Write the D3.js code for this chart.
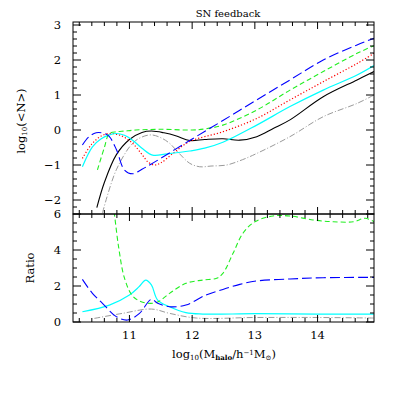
<!DOCTYPE html>
<html>
<head>
<meta charset="utf-8">
<script src="https://cdn.jsdelivr.net/npm/d3@7"></script>
<style>
  body { margin: 0; background: #fff; }
  text { font-family: "DejaVu Serif", "Liberation Serif", serif; fill: #000; }
</style>
</head>
<body>
<script>
const width = 395;
const height = 395;

// top panel: log10(<N>) vs log10(M_halo)
const black_m = [10.48, 10.6, 10.79, 11.0, 11.2, 11.35, 11.55, 11.75, 11.96, 12.2, 12.49, 12.76, 13.03, 13.3, 13.56, 14.09, 14.63, 14.9];
const black_n = [-2.22, -1.5, -0.71, -0.27, -0.07, -0.03, -0.08, -0.17, -0.3, -0.27, -0.25, -0.29, -0.19, 0.05, 0.29, 0.95, 1.43, 1.67];

const gray_m = [10.57, 10.79, 11.05, 11.2, 11.35, 11.5, 11.64, 11.8, 11.96, 12.12, 12.3, 12.55, 12.8, 13.03, 13.56, 14.09, 14.63, 14.9];
const gray_n = [-2.37, -1.14, -0.38, -0.2, -0.14, -0.22, -0.38, -0.68, -0.95, -1.05, -1.03, -1.0, -0.85, -0.67, -0.19, 0.38, 0.76, 1.0];

const red_m = [10.25, 10.4, 10.55, 10.68, 10.85, 11.05, 11.2, 11.3, 11.4, 11.5, 11.7, 11.96, 12.49, 13.03, 13.56, 14.09, 14.63, 14.9];
const red_n = [-0.81, -0.4, -0.17, -0.1, -0.15, -0.38, -0.7, -0.92, -1.0, -0.94, -0.66, -0.33, -0.05, 0.33, 0.86, 1.38, 1.9, 2.19];

const blue_m = [10.25, 10.35, 10.47, 10.6, 10.68, 10.79, 10.92, 11.05, 11.2, 11.35, 11.96, 12.49, 13.03, 13.56, 14.09, 14.63, 14.9];
const blue_n = [-0.43, -0.2, -0.08, -0.1, -0.19, -0.55, -1.14, -1.25, -1.12, -0.97, -0.3, 0.27, 0.86, 1.43, 2.0, 2.43, 2.62];

const green_m = [10.49, 10.6, 10.68, 10.8, 10.92, 11.1, 11.5, 12.0, 12.2, 12.49, 13.03, 13.56, 14.09, 14.63, 14.9];
const green_n = [-1.14, -0.5, -0.1, -0.05, -0.03, 0.0, 0.02, 0.0, 0.03, 0.14, 0.57, 1.14, 1.67, 2.19, 2.41];

const cyan_m = [10.25, 10.41, 10.55, 10.68, 10.79, 10.92, 11.05, 11.2, 11.37, 11.6, 11.96, 12.2, 12.49, 13.03, 13.56, 14.09, 14.63, 14.9];
const cyan_n = [-1.05, -0.48, -0.25, -0.14, -0.1, -0.15, -0.29, -0.52, -0.72, -0.68, -0.6, -0.52, -0.35, 0.14, 0.67, 1.14, 1.57, 1.84];

// bottom panel: ratios
const green_rm = [10.72, 10.76, 10.83, 10.92, 11.05, 11.21, 11.43, 11.64, 11.9, 12.17, 12.39, 12.49, 12.65, 12.81, 13.0, 13.29, 13.56, 13.93, 14.25, 14.57, 14.76, 14.9];
const green_r = [7.0, 6.0, 4.1, 2.45, 1.45, 1.1, 1.08, 1.59, 2.15, 2.33, 2.43, 2.7, 3.8, 4.93, 5.57, 5.89, 5.89, 5.67, 5.57, 5.57, 5.76, 5.57];

const blue_rm = [10.25, 10.41, 10.57, 10.79, 10.97, 11.16, 11.35, 11.45, 11.64, 11.9, 12.22, 12.49, 12.76, 13.03, 13.56, 14.09, 14.9];
const blue_r = [2.37, 1.59, 1.04, 0.3, 0.11, 0.48, 1.26, 1.04, 0.85, 0.94, 1.5, 1.81, 2.09, 2.28, 2.39, 2.46, 2.48];

const cyan_rm = [10.25, 10.68, 11.0, 11.15, 11.26, 11.35, 11.45, 11.64, 11.9, 12.17, 13.0, 14.0, 14.9];
const cyan_r = [0.57, 0.94, 1.5, 1.95, 2.33, 2.06, 1.22, 0.85, 0.52, 0.44, 0.46, 0.44, 0.44];

const gray_rm = [10.44, 10.89, 11.35, 11.64, 12.07, 13.0, 14.0, 14.9];
const gray_r = [0.2, 0.48, 0.72, 0.48, 0.22, 0.25, 0.25, 0.22];

const x_ticks = [11, 12, 13, 14];
const top_ticks = [-2, -1, 0, 1, 2, 3];
const bot_ticks = [0, 2, 4, 6];

const top_series = [
  {m: black_m, v: black_n, color: "#000000", dash: null, w: 1.1},
  {m: gray_m, v: gray_n, color: "#9a9a9a", dash: "6,2,1,2", w: 1},
  {m: red_m, v: red_n, color: "#ff0000", dash: "1.2,2", w: 1.2},
  {m: cyan_m, v: cyan_n, color: "#00ffff", dash: null, w: 1.2},
  {m: green_m, v: green_n, color: "#22ee22", dash: "5,3", w: 1.1},
  {m: blue_m, v: blue_n, color: "#0000ff", dash: "10,4", w: 1.1}
];

const bot_series = [
  {m: gray_rm, v: gray_r, color: "#9a9a9a", dash: "6,2,1,2", w: 1},
  {m: cyan_rm, v: cyan_r, color: "#00ffff", dash: null, w: 1.2},
  {m: green_rm, v: green_r, color: "#22ee22", dash: "5,3", w: 1.1},
  {m: blue_rm, v: blue_r, color: "#0000ff", dash: "10,4", w: 1.1}
];

const left = 73, right = 374;
const top1 = 22, mid = 214, bot = 322;

const x = d3.scaleLinear().domain([10.1, 14.9]).range([left, right]);
const yTop = d3.scaleLinear().domain([-2.4, 3.086]).range([mid, top1]);
const yBot = d3.scaleLinear().domain([0, 6]).range([bot, mid]);

const svg = d3.select('body')
  .append('svg')
  .attr('width', width)
  .attr('height', height);

const defs = svg.append("defs");
defs.append("clipPath").attr("id", "clipTop")
  .append("rect").attr("x", left).attr("y", top1).attr("width", right - left).attr("height", mid - top1);
defs.append("clipPath").attr("id", "clipBot")
  .append("rect").attr("x", left).attr("y", mid).attr("width", right - left).attr("height", bot - mid);

function drawLines(series, y, clip) {
  const g = svg.append("g").attr("clip-path", "url(#" + clip + ")");
  series.forEach(function(s) {
    const pts = s.m.map(function(m, i) { return [m, s.v[i]]; });
    const line = d3.line()
      .x(d => x(d[0]))
      .y(d => y(d[1]))
      .curve(d3.curveCatmullRom.alpha(0.5));
    g.append("path")
      .attr("d", line(pts))
      .attr("fill", "none")
      .attr("stroke", s.color)
      .attr("stroke-width", s.w)
      .attr("stroke-dasharray", s.dash);
  });
}

drawLines(top_series, yTop, "clipTop");
drawLines(bot_series, yBot, "clipBot");

// frame ticks
function frameTicks(y, y0, y1, yMajor, yMinorStep) {
  const g = svg.append("g").attr("stroke", "#000").attr("stroke-width", 1);
  const ya = y(y0), yb = y(y1);
  // x ticks, bottom (up) and top (down)
  d3.range(10.2, 14.9, 0.2).forEach(function(v) {
    const major = Math.abs(v - Math.round(v)) < 1e-6;
    const len = major ? 7 : 4;
    const px = x(v);
    g.append("line").attr("x1", px).attr("x2", px).attr("y1", ya).attr("y2", ya - len);
    g.append("line").attr("x1", px).attr("x2", px).attr("y1", yb).attr("y2", yb + len);
  });
  // y ticks, left and right
  const n = Math.round((y1 - y0) / yMinorStep);
  for (let i = 0; i <= n; i++) {
    const v = Math.ceil(y0 / yMinorStep) * yMinorStep + i * yMinorStep;
    if (v > y1 + 1e-6) break;
    const major = yMajor.some(t => Math.abs(t - v) < 1e-6);
    const len = major ? 8 : 4;
    const py = y(v);
    g.append("line").attr("x1", left).attr("x2", left + len).attr("y1", py).attr("y2", py);
    g.append("line").attr("x1", right).attr("x2", right - len).attr("y1", py).attr("y2", py);
  }
  g.append("rect")
    .attr("x", left).attr("y", yb)
    .attr("width", right - left).attr("height", ya - yb)
    .attr("fill", "none");
}

frameTicks(yTop, -2.4, 3.086, top_ticks, 0.2);
frameTicks(yBot, 0, 6, bot_ticks, 0.5);

// tick labels
const fmt = d => d < 0 ? "\u2212" + Math.abs(d) : String(d);

svg.append("g").selectAll("text")
  .data(top_ticks)
  .enter().append("text")
  .attr("x", left - 12)
  .attr("y", d => yTop(d) + 4)
  .attr("text-anchor", "end")
  .style("font-size", "11.5px")
  .text(fmt);

svg.append("g").selectAll("text")
  .data(bot_ticks)
  .enter().append("text")
  .attr("x", left - 12)
  .attr("y", d => yBot(d) + 4)
  .attr("text-anchor", "end")
  .style("font-size", "11.5px")
  .text(fmt);

svg.append("g").selectAll("text")
  .data(x_ticks)
  .enter().append("text")
  .attr("x", d => x(d))
  .attr("y", bot + 17)
  .attr("text-anchor", "middle")
  .style("font-size", "11.5px")
  .text(fmt);

// title
svg.append("text")
  .attr("x", 228).attr("y", 17)
  .attr("text-anchor", "middle")
  .style("font-size", "10px")
  .text("SN feedback");

// y labels
const ylab = svg.append("text")
  .attr("transform", "translate(25,121) rotate(-90)")
  .attr("text-anchor", "middle")
  .style("font-size", "11.5px");
ylab.append("tspan").text("log");
ylab.append("tspan").attr("baseline-shift", "-25%").style("font-size", "7px").text("10");
ylab.append("tspan").text("(<N>)");

svg.append("text")
  .attr("transform", "translate(34,268) rotate(-90)")
  .attr("text-anchor", "middle")
  .style("font-size", "11.5px")
  .text("Ratio");

// x label
const xlab = svg.append("text")
  .attr("x", 224).attr("y", 358)
  .attr("text-anchor", "middle")
  .style("font-size", "11.5px");
xlab.append("tspan").text("log");
xlab.append("tspan").attr("baseline-shift", "-25%").style("font-size", "7px").text("10");
xlab.append("tspan").text("(M");
xlab.append("tspan").attr("baseline-shift", "-25%").style("font-size", "7px").style("font-weight", "bold").text("halo");
xlab.append("tspan").text("/h");
xlab.append("tspan").attr("baseline-shift", "40%").style("font-size", "7px").text("\u22121");
xlab.append("tspan").text("M");
xlab.append("tspan").attr("baseline-shift", "-25%").style("font-size", "7px").text("\u2299");
xlab.append("tspan").text(")");
</script>
</body>
</html>
